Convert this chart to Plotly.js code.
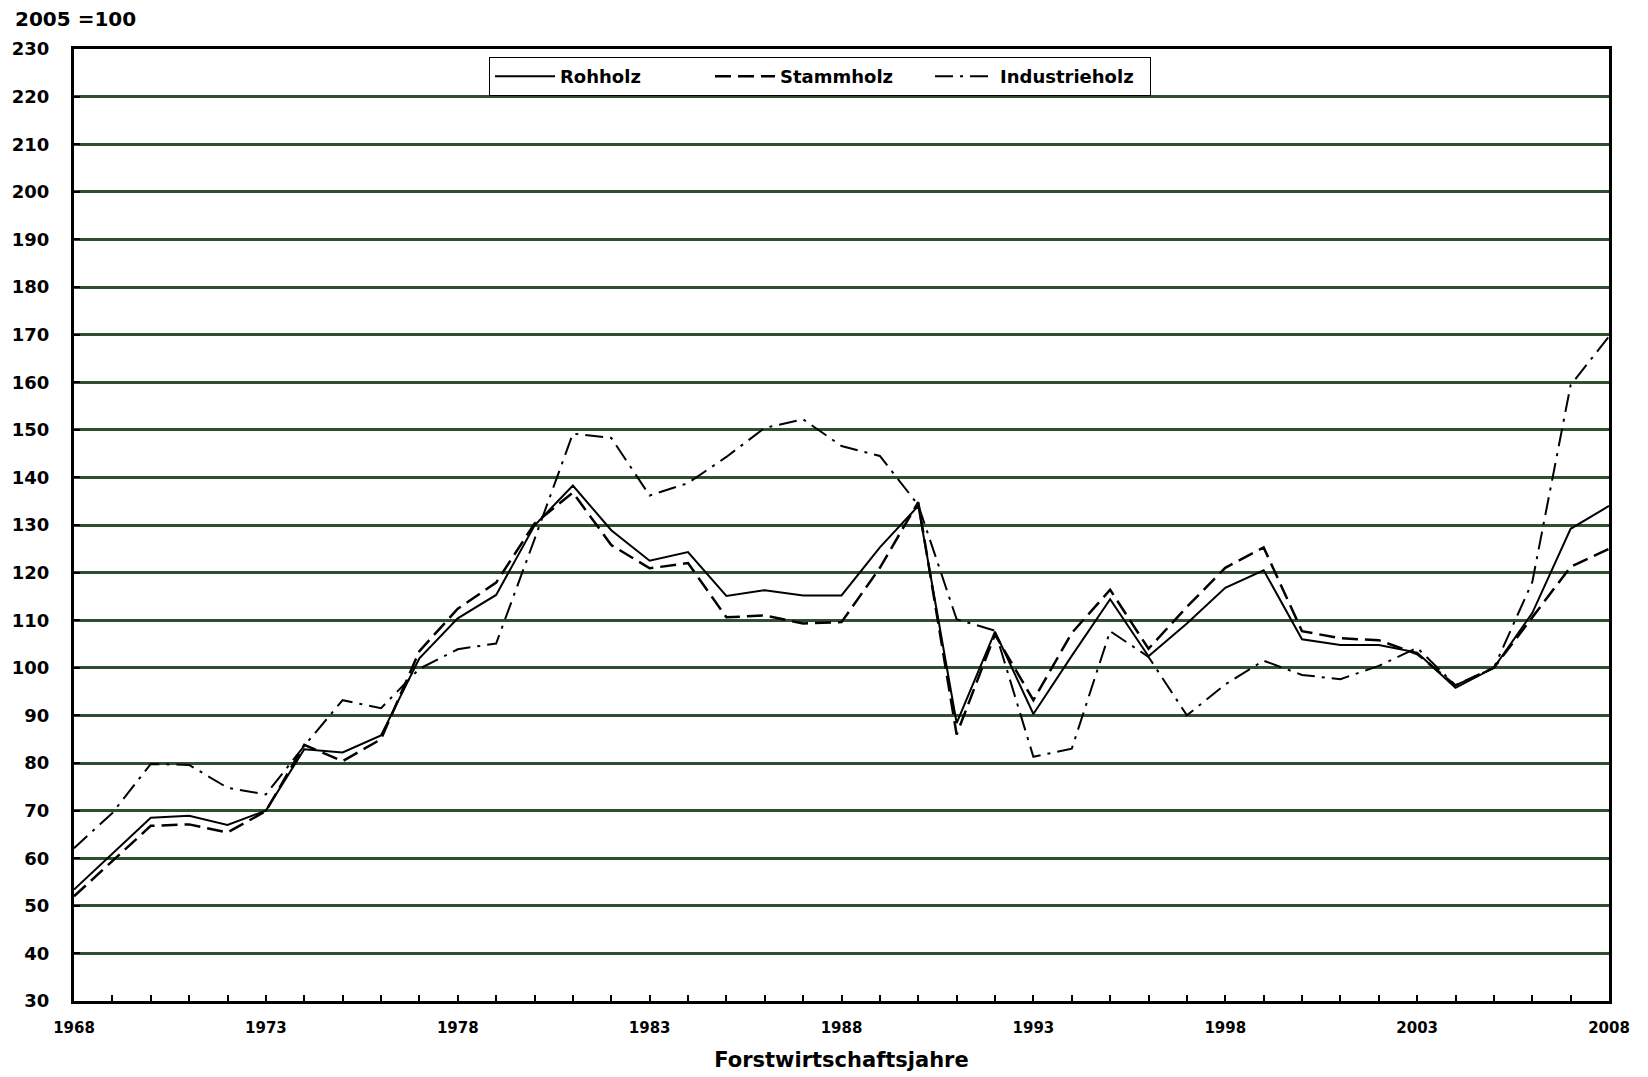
<!DOCTYPE html>
<html>
<head>
<meta charset="utf-8">
<script src="https://cdn.plot.ly/plotly-3.0.1.min.js"></script>
<style>html,body{margin:0;padding:0;background:#fff;}#chart{width:1648px;height:1077px;}</style>
</head>
<body>
<div id="chart"></div>
<script>
const years = [1968,1969,1970,1971,1972,1973,1974,1975,1976,1977,1978,1979,1980,1981,1982,1983,1984,1985,1986,1987,1988,1989,1990,1991,1992,1993,1994,1995,1996,1997,1998,1999,2000,2001,2002,2003,2004,2005,2006,2007,2008];
const rohholz = [53.4,61,68.5,68.9,67,70,82.9,82.2,85.8,102,110.4,115.3,129.9,138.3,128.9,122.5,124.3,115.1,116.3,115.2,115.2,125.3,134,88.4,107.6,90.3,102.5,114.4,102.4,109.3,116.8,120.5,106,104.8,104.8,103.2,95.8,100,111.5,129.2,134];
const stammholz = [52,59.5,66.8,67.1,65.4,69.9,83.8,80.4,85,103.5,112.4,117.9,130.3,136.8,125.8,120.9,122,110.6,111,109.3,109.6,121,134.8,86,107,93.2,107.3,116.4,104,112.8,121,125.3,107.7,106.2,105.8,102.9,96.3,100,110.5,121.2,125];
const industrieholz = [62.1,69.5,79.8,79.6,74.8,73.4,83.6,93.2,91.5,99.8,103.9,105.1,127,149.2,148.3,136.2,138.8,144.3,150.4,152.2,146.6,144.5,134.2,110.2,107.8,81.3,83,107.7,102.3,90,96.5,101.5,98.5,97.6,100.4,104.2,96.3,100,118,159.4,169.6];
const seriesNames = ["Rohholz","Stammholz","Industrieholz"];
const xTickLabels = years.map(y => ((y - 1968) % 5 === 0 ? String(y) : ""));
const yTickVals = [30,40,50,60,70,80,90,100,110,120,130,140,150,160,170,180,190,200,210,220,230];
const yAxisLabel = "2005 =100";
const xAxisLabel = "Forstwirtschaftsjahre";

const FONT = "DejaVu Sans, Arial, sans-serif";

const traces = [
  {x: years, y: rohholz, name: seriesNames[0], type: "scatter", mode: "lines",
   line: {color: "#000", width: 2, dash: "solid"}},
  {x: years, y: stammholz, name: seriesNames[1], type: "scatter", mode: "lines",
   line: {color: "#000", width: 2.5, dash: "16px,7px"}},
  {x: years, y: industrieholz, name: seriesNames[2], type: "scatter", mode: "lines",
   line: {color: "#000", width: 2, dash: "18px,7px,3px,7px"}}
];

const layout = {
  width: 1648, height: 1077,
  margin: {l: 74, r: 39, t: 49, b: 76, pad: 0},
  paper_bgcolor: "#fff", plot_bgcolor: "#fff",
  font: {family: FONT, color: "#000", size: 17, weight: "bold"},
  showlegend: true,
  legend: {
    orientation: "h", x: 0.486, xanchor: "center", y: 0.9916, yanchor: "top",
    bordercolor: "#000", borderwidth: 1, bgcolor: "#fff",
    font: {family: FONT, size: 18, color: "#000", weight: "bold"},
    itemwidth: 60,
    entrywidth: 145, entrywidthmode: "pixels", traceorder: "normal"
  },
  xaxis: {
    range: [1968, 2008], tickmode: "array", tickvals: years, ticktext: xTickLabels,
    ticks: "inside", ticklen: 6, tickwidth: 2, tickcolor: "#000",
    showline: true, linecolor: "#000", linewidth: 3, mirror: true,
    showgrid: false, zeroline: false,
    tickfont: {family: FONT, size: 15, color: "#000", weight: "bold"},
    ticklabelstandoff: 11,
    title: {text: xAxisLabel, font: {family: FONT, size: 21, color: "#000", weight: "bold"}, standoff: 17}
  },
  yaxis: {
    range: [30, 230], tickmode: "array", tickvals: yTickVals,
    ticks: "inside", ticklen: 6, tickwidth: 2, tickcolor: "#000",
    showline: true, linecolor: "#000", linewidth: 3, mirror: true,
    showgrid: true, gridcolor: "#2f4f2f", gridwidth: 3, zeroline: false,
    tickfont: {family: FONT, size: 18, color: "#000", weight: "bold"},
    ticklabelstandoff: 18
  },
  annotations: [
    {text: yAxisLabel, xref: "paper", yref: "paper", x: -0.0397, y: 1.0315,
     xanchor: "left", yanchor: "middle", showarrow: false,
     font: {family: FONT, size: 20, color: "#000", weight: "bold"}}
  ]
};

Plotly.newPlot("chart", traces, layout, {staticPlot: true, displayModeBar: false});
</script>
</body>
</html>
